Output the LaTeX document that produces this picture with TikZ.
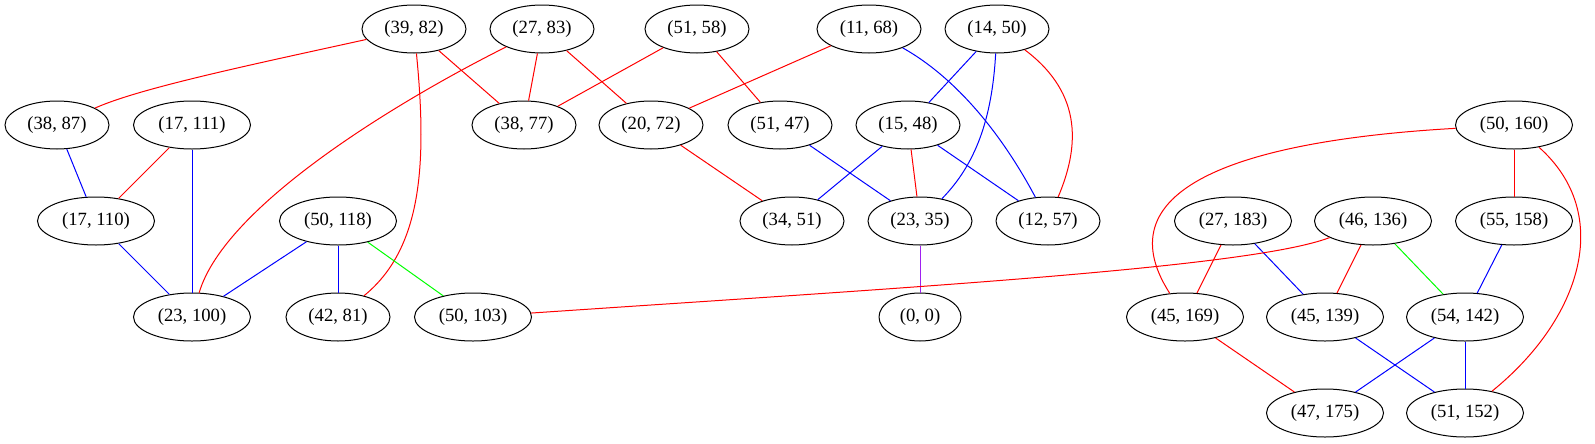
\documentclass[tikz,border=0pt]{standalone}
\usepackage{fontspec}
\setmainfont{Liberation Serif}
\usetikzlibrary{shapes.geometric}
\definecolor{gvpurple}{RGB}{160,32,240}

\begin{document}
\begin{tikzpicture}[
    x=0.75pt,y=-0.75pt,
    vertex/.style={
      ellipse,draw,line width=0.75pt,inner sep=0pt,
      minimum width=78pt,minimum height=36pt,
      font=\fontsize{14}{16}\selectfont
    },
    widevertex/.style={
      vertex,
      minimum width=87.75pt
    },
    tinyvertex/.style={
      vertex,
      minimum width=61.5pt
    },
    link/.style={line width=0.75pt},
    redlink/.style={link,draw=red},
    bluelink/.style={link,draw=blue},
    greenlink/.style={link,draw=green},
    purplelink/.style={link,draw=gvpurple}]

      \useasboundingbox (0,0) rectangle (1595,443);

      % rank 1
      \node[vertex] (n39x82) at (414,29) {(39, 82)};
      \node[vertex] (n27x83) at (542,29) {(27, 83)};
      \node[vertex] (n51x58) at (697,29) {(51, 58)};
      \node[vertex] (n11x68) at (869,29) {(11, 68)};
      \node[vertex] (n14x50) at (997,29) {(14, 50)};

      % rank 2
      \node[vertex] (n38x87) at (57,125) {(38, 87)};
      \node[widevertex] (n17x111) at (192,125) {(17, 111)};
      \node[vertex] (n38x77) at (524,125) {(38, 77)};
      \node[vertex] (n20x72) at (651,125) {(20, 72)};
      \node[vertex] (n51x47) at (780,125) {(51, 47)};
      \node[vertex] (n15x48) at (908,125) {(15, 48)};
      \node[widevertex] (n50x160) at (1514,125) {(50, 160)};

      % rank 3
      \node[widevertex] (n17x110) at (96,221) {(17, 110)};
      \node[widevertex] (n50x118) at (338,221) {(50, 118)};
      \node[vertex] (n34x51) at (792,221) {(34, 51)};
      \node[vertex] (n23x35) at (920,221) {(23, 35)};
      \node[vertex] (n12x57) at (1048,221) {(12, 57)};
      \node[widevertex] (n27x183) at (1233,221) {(27, 183)};
      \node[widevertex] (n46x136) at (1373,221) {(46, 136)};
      \node[widevertex] (n55x158) at (1514,221) {(55, 158)};

      % rank 4
      \node[widevertex] (n23x100) at (192,317) {(23, 100)};
      \node[vertex] (n42x81) at (338,317) {(42, 81)};
      \node[widevertex] (n50x103) at (473,317) {(50, 103)};
      \node[tinyvertex] (n0x0) at (920,317) {(0, 0)};
      \node[widevertex] (n45x169) at (1185,317) {(45, 169)};
      \node[widevertex] (n45x139) at (1325,317) {(45, 139)};
      \node[widevertex] (n54x142) at (1465,317) {(54, 142)};

      % rank 5
      \node[widevertex] (n47x175) at (1325,413) {(47, 175)};
      \node[widevertex] (n51x152) at (1465,413) {(51, 152)};

      % edges
      \draw[redlink] (n39x82) .. controls (250,65) and (140,88) .. (n38x87);
      \draw[redlink] (n39x82) -- (n38x77);
      \draw[redlink] (n39x82) .. controls (428,170) and (420,250) .. (n42x81);
      \draw[redlink] (n27x83) .. controls (400,100) and (225,205) .. (n23x100);
      \draw[redlink] (n27x83) -- (n38x77);
      \draw[redlink] (n27x83) -- (n20x72);
      \draw[redlink] (n51x58) -- (n38x77);
      \draw[redlink] (n51x58) -- (n51x47);
      \draw[redlink] (n11x68) -- (n20x72);
      \draw[bluelink] (n11x68) .. controls (960,80) and (1005,140) .. (n12x57);
      \draw[bluelink] (n14x50) -- (n15x48);
      \draw[bluelink] (n14x50) .. controls (992,120) and (975,165) .. (n23x35);
      \draw[redlink] (n14x50) .. controls (1085,95) and (1078,150) .. (n12x57);
      \draw[bluelink] (n38x87) -- (n17x110);
      \draw[redlink] (n17x111) -- (n17x110);
      \draw[bluelink] (n17x111) -- (n23x100);
      \draw[redlink] (n20x72) -- (n34x51);
      \draw[bluelink] (n51x47) -- (n23x35);
      \draw[bluelink] (n15x48) -- (n34x51);
      \draw[redlink] (n15x48) -- (n23x35);
      \draw[bluelink] (n15x48) -- (n12x57);
      \draw[redlink] (n50x160) .. controls (1250,140) and (1100,185) .. (n45x169);
      \draw[redlink] (n50x160) -- (n55x158);
      \draw[redlink] (n50x160) .. controls (1615,215) and (1580,320) .. (n51x152);
      \draw[bluelink] (n17x110) -- (n23x100);
      \draw[bluelink] (n50x118) -- (n23x100);
      \draw[bluelink] (n50x118) -- (n42x81);
      \draw[greenlink] (n50x118) -- (n50x103);
      \draw[purplelink] (n23x35) -- (n0x0);
      \draw[redlink] (n27x183) -- (n45x169);
      \draw[bluelink] (n27x183) -- (n45x139);
      \draw[redlink] (n46x136) .. controls (1250,268) and (900,288) .. (n50x103);
      \draw[redlink] (n46x136) -- (n45x139);
      \draw[greenlink] (n46x136) -- (n54x142);
      \draw[bluelink] (n55x158) -- (n54x142);
      \draw[redlink] (n45x169) -- (n47x175);
      \draw[bluelink] (n45x139) -- (n51x152);
      \draw[bluelink] (n54x142) -- (n47x175);
      \draw[bluelink] (n54x142) -- (n51x152);
  \end{tikzpicture}
\end{document}
